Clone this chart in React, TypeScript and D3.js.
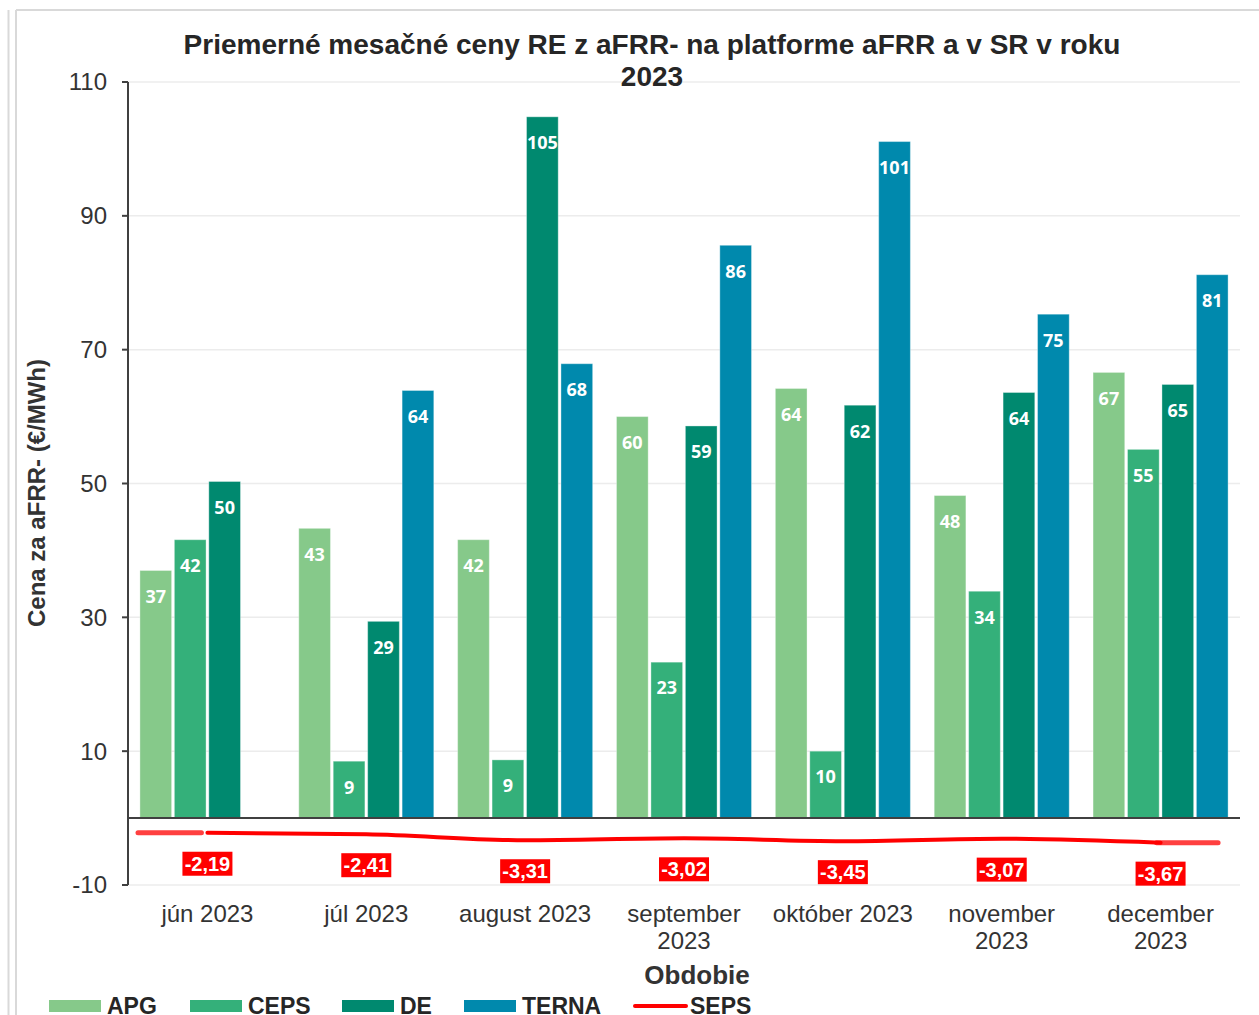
import React from "react";
import * as d3 from "d3";

const months = ["jún 2023", "júl 2023", "august 2023", "september 2023", "október 2023", "november 2023", "december 2023"];
const monthLines = [["jún 2023"], ["júl 2023"], ["august 2023"], ["september", "2023"], ["október 2023"], ["november", "2023"], ["december", "2023"]];

const seriesNames = ["APG", "CEPS", "DE", "TERNA"];
const APG = [37.0, 43.3, 41.6, 60.0, 64.2, 48.2, 66.6];
const CEPS = [41.6, 8.5, 8.7, 23.3, 10.0, 33.9, 55.1];
const DE = [50.3, 29.4, 104.8, 58.6, 61.7, 63.6, 64.8];
const TERNA = [null, 63.9, 67.9, 85.6, 101.1, 75.3, 81.2];
const SEPS = [-2.19, -2.41, -3.31, -3.02, -3.45, -3.07, -3.67];

const yTicks = [-10, 10, 30, 50, 70, 90, 110];
const colors = ["#86c98a", "#34b07a", "#00896f", "#0089ad"];
const sepsColor = "#ff0000";

const W = 1259;
const H = 1015;
const left = 128;
const right = 1240;
const top = 82;
const bottom = 885;
const font = "'Liberation Sans', Arial, sans-serif";
const labelFont = "'Open Sans', 'Noto Sans', sans-serif";

export default function App() {
  const allSeries = [APG, CEPS, DE, TERNA];

  const x0 = d3.scaleBand().domain(months).range([left, right]).paddingInner(0.15).paddingOuter(0.075);
  const x1 = d3.scaleBand().domain(seriesNames).range([0, x0.bandwidth()]).paddingInner(0.08);
  const y = d3.scaleLinear().domain([-10, 110]).range([bottom, top]);

  const center = (m: string) => (x0(m) as number) + x0.bandwidth() / 2;

  const sepsLine = d3
    .line<number>()
    .x((_, i) => center(months[i]))
    .y((d) => y(d))
    .curve(d3.curveMonotoneX);

  const firstX = center(months[0]);
  const lastX = center(months[months.length - 1]);
  const lastBandEnd = (x0(months[months.length - 1]) as number) + x0.bandwidth();

  const legendItems = [
    { name: "APG", x: 49, color: colors[0], type: "bar" },
    { name: "CEPS", x: 190, color: colors[1], type: "bar" },
    { name: "DE", x: 342, color: colors[2], type: "bar" },
    { name: "TERNA", x: 464, color: colors[3], type: "bar" },
    { name: "SEPS", x: 633, color: sepsColor, type: "line" },
  ];

  return (
    <div style={{ position: "absolute", left: 0, top: 0 }}>
      <svg width={W} height={H} style={{ display: "block", background: "#fff" }}>
        {/* frame */}
        <line x1={8.5} x2={8.5} y1={10} y2={H} stroke="#d9d9d9" strokeWidth={2} />
        <line x1={16} x2={16} y1={10} y2={H} stroke="#d9d9d9" strokeWidth={2} />
        <line x1={16} x2={W} y1={10} y2={10} stroke="#d9d9d9" strokeWidth={2} />

        {/* grid */}
        {yTicks.map((t) => (
          <line key={"g" + t} x1={left} x2={right} y1={y(t)} y2={y(t)} stroke="#ececec" strokeWidth={1.5} />
        ))}

        {/* title */}
        <text x={652} y={54} textAnchor="middle" fontFamily={font} fontWeight="bold" fontSize={28} fill="#262626">
          Priemerné mesačné ceny RE z aFRR- na platforme aFRR a v SR v roku
        </text>
        <text x={652} y={86} textAnchor="middle" fontFamily={font} fontWeight="bold" fontSize={28} fill="#262626">
          2023
        </text>

        {/* y axis */}
        <line x1={left} x2={left} y1={top} y2={bottom} stroke="#404040" strokeWidth={2} />
        {yTicks.map((t) => (
          <g key={"t" + t}>
            <line x1={left - 6} x2={left} y1={y(t)} y2={y(t)} stroke="#404040" strokeWidth={2} />
            <text x={107} y={y(t)} dy="0.35em" textAnchor="end" fontFamily={font} fontSize={24} fill="#333">
              {t}
            </text>
          </g>
        ))}
        <text
          transform={`translate(45,493) rotate(-90)`}
          textAnchor="middle"
          fontFamily={font}
          fontWeight="bold"
          fontSize={24}
          fill="#333"
        >
          Cena za aFRR- (€/MWh)
        </text>

        {/* bars */}
        {months.map((m, i) => (
          <g key={m} transform={`translate(${x0(m)},0)`}>
            {allSeries.map((s, k) => {
              const v = s[i];
              if (v == null) return null;
              const bx = x1(seriesNames[k]) as number;
              return (
                <g key={k}>
                  <rect
                    x={bx}
                    y={y(v)}
                    width={x1.bandwidth()}
                    height={y(0) - y(v)}
                    fill={colors[k]}
                    stroke="#ffffff"
                    strokeOpacity={0.35}
                    strokeWidth={1}
                  />
                  <text
                    x={bx + x1.bandwidth() / 2}
                    y={y(v) + 26}
                    dy="0.35em"
                    textAnchor="middle"
                    fontFamily={labelFont}
                    fontWeight="bold"
                    fontSize={18}
                    fill="#fff"
                  >
                    {Math.round(v)}
                  </text>
                </g>
              );
            })}
          </g>
        ))}

        {/* zero line */}
        <line x1={left} x2={right} y1={y(0)} y2={y(0)} stroke="#404040" strokeWidth={2} />

        {/* SEPS line */}
        <line x1={left + 10} x2={firstX - 6} y1={y(SEPS[0])} y2={y(SEPS[0])} stroke="#ff4040" strokeWidth={5} strokeLinecap="round" />
        <line x1={lastX - 4} x2={lastBandEnd - 10} y1={y(SEPS[SEPS.length - 1])} y2={y(SEPS[SEPS.length - 1])} stroke="#ff4040" strokeWidth={5} strokeLinecap="round" />
        <path d={sepsLine(SEPS) || undefined} fill="none" stroke={sepsColor} strokeWidth={4} strokeLinecap="round" />
        {SEPS.map((v, i) => {
          const cx = center(months[i]);
          const cy = y(v) + 31;
          return (
            <g key={"s" + i}>
              <rect x={cx - 25} y={cy - 12} width={50} height={24} fill={sepsColor} />
              <text x={cx} y={cy} dy="0.36em" textAnchor="middle" fontFamily={font} fontWeight="bold" fontSize={20} fill="#fff">
                {v.toFixed(2).replace(".", ",")}
              </text>
            </g>
          );
        })}

        {/* x labels */}
        {months.map((m, i) => (
          <text key={"x" + m} x={center(m)} y={922} textAnchor="middle" fontFamily={font} fontSize={24} fill="#333">
            {monthLines[i].map((ln, j) => (
              <tspan key={j} x={center(m)} dy={j === 0 ? 0 : 27}>
                {ln}
              </tspan>
            ))}
          </text>
        ))}
        <text x={697} y={984} textAnchor="middle" fontFamily={font} fontWeight="bold" fontSize={26} fill="#333">
          Obdobie
        </text>

        {/* legend */}
        {legendItems.map((it) => (
          <g key={it.name}>
            {it.type === "bar" ? (
              <rect x={it.x} y={1000} width={52} height={12} fill={it.color} />
            ) : (
              <line x1={it.x + 2} x2={it.x + 53} y1={1006} y2={1006} stroke={it.color} strokeWidth={4} strokeLinecap="round" />
            )}
            <text x={it.x + (it.type === "bar" ? 58 : 57)} y={1014} fontFamily={font} fontWeight="bold" fontSize={23} fill="#262626">
              {it.name}
            </text>
          </g>
        ))}
      </svg>
    </div>
  );
}
